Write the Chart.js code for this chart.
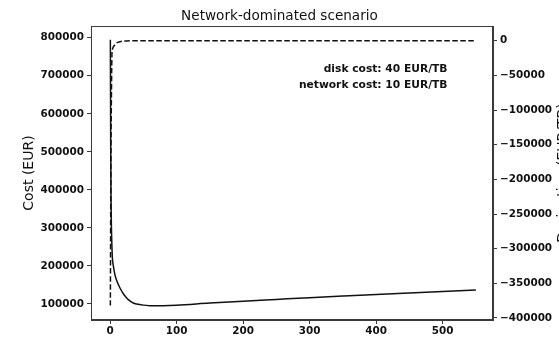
<!DOCTYPE html>
<html>
<head>
<meta charset="utf-8">
<script src="https://cdn.jsdelivr.net/npm/chart.js@4/dist/chart.umd.min.js"></script>
<style>
  html, body { margin: 0; padding: 0; background: #fff; }
  #wrap { width: 559px; height: 338px; }
</style>
</head>
<body>
<div id="wrap"><canvas id="c" width="559" height="338"></canvas></div>
<script>
// Number of something (x), total cost and its derivative
const xValues = [0.5, 1, 1.5, 2, 3, 3.5, 5, 7.5, 10, 15, 20, 25, 30, 35, 40, 50, 60, 70, 80,
                 100, 150, 200, 250, 300, 350, 400, 450, 500, 550];
const costValues = [795000, 520000, 380000, 310000, 245000, 222000, 200000, 176000, 162000, 142000,
                    127000, 116000, 108000, 102600, 100000, 97000, 95500, 95200, 95500,
                    97000, 102500, 107500, 112000, 116500, 120800, 125000, 129000, 133000, 137000];
const derivValues = [-382000, -250000, -150000, -90000, -16000, -12500, -9000, -5500, -3000, -1500,
                     -600, -300, -150, -100, -50, 0, 20, 40, 50,
                     70, 80, 85, 85, 85, 85, 85, 85, 85, 85];

const xTicks = [0, 100, 200, 300, 400, 500];
const costTicks = [100000, 200000, 300000, 400000, 500000, 600000, 700000, 800000];
const derivTicks = [-400000, -350000, -300000, -250000, -200000, -150000, -100000, -50000, 0];

const titleText = 'Network-dominated scenario';
const costLabel = 'Cost (EUR)';
const derivLabel = 'Derivative (EUR/TB)';
const noteLines = ['disk cost: 40 EUR/TB', 'network cost: 10 EUR/TB'];

const FONT = "'DejaVu Sans', 'Liberation Sans', sans-serif";
const INK = '#111';
const FRAME = '#3a3a3a';

const costPoints = xValues.map((x, i) => ({ x, y: costValues[i] }));
const derivPoints = xValues.map((x, i) => ({ x, y: derivValues[i] }));

const fmt = v => (v < 0 ? '\u2212' + String(-v) : String(v));
const fixTicks = list => scale => { scale.ticks = list.map(v => ({ value: v })); };

// Axes frame, notes and the right-hand label
const extras = {
  id: 'extras',
  afterDatasetsDraw(chart) {
    const { ctx, chartArea: a } = chart;
    ctx.save();
    ctx.strokeStyle = FRAME;
    ctx.lineWidth = 1;
    ctx.strokeRect(a.left + 0.5, a.top + 0.5, a.right - a.left - 1, a.bottom - a.top - 1);

    ctx.fillStyle = INK;
    ctx.font = 'bold 10.7px ' + FONT;
    ctx.textAlign = 'right';
    ctx.textBaseline = 'middle';
    ctx.fillText(noteLines[0], 447.5, 69);
    ctx.fillText(noteLines[1], 447.5, 85.5);

    ctx.font = '14px ' + FONT;
    ctx.textAlign = 'center';
    ctx.translate(563.5, (a.top + a.bottom) / 2);
    ctx.rotate(-Math.PI / 2);
    ctx.fillText(derivLabel, 0, 0);
    ctx.restore();
  }
};

const tickFont = { family: FONT, size: 10.4, weight: 'bold' };
const gridOpts = { drawOnChartArea: false, drawTicks: true, tickLength: 4, tickColor: FRAME, tickWidth: 1 };

new Chart(document.getElementById('c'), {
  type: 'line',
  data: {
    datasets: [
      {
        label: 'Cost',
        data: costPoints,
        yAxisID: 'y',
        borderColor: INK,
        borderWidth: 1.5,
        pointRadius: 0,
        cubicInterpolationMode: 'monotone',
        fill: false
      },
      {
        label: 'Derivative',
        data: derivPoints,
        yAxisID: 'y2',
        borderColor: INK,
        borderWidth: 1.5,
        borderDash: [5.5, 2.5],
        pointRadius: 0,
        cubicInterpolationMode: 'monotone',
        fill: false
      }
    ]
  },
  options: {
    responsive: false,
    animation: false,
    devicePixelRatio: 1,
    layout: { padding: { top: 0, left: 0, right: 0, bottom: 0 } },
    plugins: {
      legend: { display: false },
      tooltip: { enabled: false },
      title: {
        display: true,
        text: titleText,
        color: INK,
        font: { family: FONT, size: 13.6, weight: 'normal' },
        padding: { top: 8, bottom: 1.7 }
      }
    },
    scales: {
      x: {
        type: 'linear',
        min: -28.6,
        max: 575.8,
        afterBuildTicks: fixTicks(xTicks),
        afterFit: s => { s.height = 18; },
        grid: gridOpts,
        border: { display: true, color: FRAME },
        ticks: { color: INK, font: tickFont, padding: 1, autoSkip: false, maxRotation: 0,
                 callback: v => fmt(v) }
      },
      y: {
        type: 'linear',
        position: 'left',
        min: 57900,
        max: 830800,
        afterBuildTicks: fixTicks(costTicks),
        afterFit: s => { s.width = 91; },
        grid: gridOpts,
        border: { display: true, color: FRAME },
        ticks: { color: INK, font: tickFont, padding: 3, autoSkip: false, callback: v => fmt(v) },
        title: {
          display: true,
          text: costLabel,
          color: INK,
          font: { family: FONT, size: 14, weight: 'normal' },
          padding: { top: 21, bottom: 0 }
        }
      },
      y2: {
        type: 'linear',
        position: 'right',
        min: -402900,
        max: 21200,
        afterBuildTicks: fixTicks(derivTicks),
        afterFit: s => { s.width = 66; },
        grid: gridOpts,
        border: { display: true, color: FRAME },
        ticks: { color: INK, font: tickFont, padding: 3, autoSkip: false, callback: v => fmt(v) }
      }
    }
  },
  plugins: [extras]
});
</script>
</body>
</html>
